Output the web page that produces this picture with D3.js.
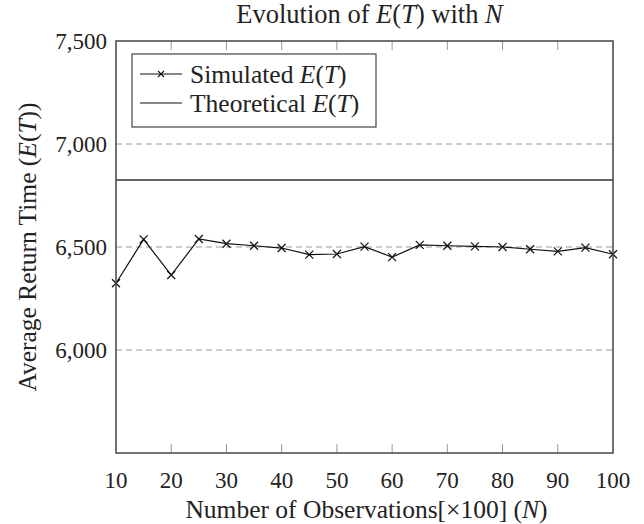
<!DOCTYPE html>
<html>
<head>
<meta charset="utf-8">
<script src="https://cdn.jsdelivr.net/npm/d3@7"></script>
<style>
  body { margin: 0; background: #fff; }
</style>
</head>
<body>
<div id="chart"></div>
<script>
// observations (x100) and simulated mean return time
const observations = [10, 15, 20, 25, 30, 35, 40, 45, 50, 55, 60, 65, 70, 75, 80, 85, 90, 95, 100];
const simulated = [6324, 6537, 6364, 6539, 6516, 6506, 6495, 6463, 6466, 6502, 6451, 6510, 6506, 6503, 6500, 6489, 6479, 6497, 6465];
const theoretical = 6825;
const xTicks = [10, 20, 30, 40, 50, 60, 70, 80, 90, 100];
const yTicks = [6000, 6500, 7000, 7500];
const gridValues = [6000, 6500, 7000];

const width = 644, height = 524;
const margin = {top: 41, right: 31, bottom: 71, left: 116};
const tickFs = 23;   // tick labels
const labelFs = 25.5; // titles and legend
const serif = "'Liberation Serif', 'Times New Roman', 'DejaVu Serif', serif";

const svg = d3.select('#chart').append('svg')
    .attr('width', width)
    .attr('height', height)
    .attr('font-family', serif)
    .style('font-family', serif);

const x = d3.scaleLinear().domain([10, 100]).range([margin.left, width - margin.right]);
const y = d3.scaleLinear().domain([5500, 7500]).range([height - margin.bottom, margin.top]);

// dashed grid
svg.append('g')
    .selectAll('line')
    .data(gridValues)
    .enter().append('line')
    .attr('x1', x(10)).attr('x2', x(100))
    .attr('y1', d => y(d)).attr('y2', d => y(d))
    .style('stroke', '#9a9a9a')
    .style('stroke-width', 1)
    .style('stroke-dasharray', '6,4');

// tick marks inside the frame, top and bottom
const tickLen = 9;
svg.append('g')
    .selectAll('line')
    .data(xTicks.slice(1, -1))
    .enter().append('line')
    .attr('x1', d => x(d)).attr('x2', d => x(d))
    .attr('y1', y(7500)).attr('y2', y(7500) + tickLen)
    .style('stroke', '#999').style('stroke-width', 1);
svg.append('g')
    .selectAll('line')
    .data(xTicks.slice(1, -1))
    .enter().append('line')
    .attr('x1', d => x(d)).attr('x2', d => x(d))
    .attr('y1', y(5500)).attr('y2', y(5500) - tickLen)
    .style('stroke', '#999').style('stroke-width', 1);

// theoretical line
svg.append('line')
    .attr('x1', x(10)).attr('x2', x(100))
    .attr('y1', y(theoretical)).attr('y2', y(theoretical))
    .style('stroke', '#666')
    .style('stroke-width', 2);

// simulated series
const pts = observations.map((o, i) => [o, simulated[i]]);
svg.append('path')
    .datum(pts)
    .attr('d', d3.line().x(d => x(d[0])).y(d => y(d[1])))
    .style('fill', 'none')
    .style('stroke', '#111')
    .style('stroke-width', 1.2);

const cross = 4;
svg.append('g')
    .selectAll('path')
    .data(pts)
    .enter().append('path')
    .attr('d', d => {
        const cx = x(d[0]), cy = y(d[1]);
        return `M${cx - cross},${cy - cross}L${cx + cross},${cy + cross}M${cx - cross},${cy + cross}L${cx + cross},${cy - cross}`;
    })
    .style('stroke', '#111')
    .style('stroke-width', 1.2);

// frame
svg.append('rect')
    .attr('x', x(10)).attr('y', y(7500))
    .attr('width', x(100) - x(10))
    .attr('height', y(5500) - y(7500))
    .style('fill', 'none')
    .style('stroke', '#444')
    .style('stroke-width', 1.5);

// tick labels
const fmt = d3.format(',');
svg.append('g')
    .selectAll('text')
    .data(yTicks)
    .enter().append('text')
    .attr('x', x(10) - 9)
    .attr('y', d => y(d))
    .attr('dy', '0.35em')
    .attr('text-anchor', 'end')
    .style('font-size', tickFs + 'px')
    .style('fill', '#222')
    .text(d => fmt(d));

svg.append('g')
    .selectAll('text')
    .data(xTicks)
    .enter().append('text')
    .attr('x', d => x(d))
    .attr('y', y(5500) + 35)
    .attr('text-anchor', 'middle')
    .style('font-size', tickFs + 'px')
    .style('fill', '#222')
    .text(d => d);

// text with italic math parts
function richText(sel, parts) {
    sel.style('fill', '#222');
    parts.forEach(p => {
        sel.append('tspan')
            .style('font-style', p[1] ? 'italic' : 'normal')
            .text(p[0]);
    });
    return sel;
}

const plotMid = (x(10) + x(100)) / 2;

richText(svg.append('text')
    .attr('x', plotMid + 5).attr('y', 23)
    .attr('text-anchor', 'middle')
    .style('font-size', '26.5px'),
    [['Evolution of ', false], ['E', true], ['(', false], ['T', true], [') with ', false], ['N', true]]);

richText(svg.append('text')
    .attr('x', plotMid + 2).attr('y', height - 6)
    .attr('text-anchor', 'middle')
    .style('font-size', labelFs + 'px'),
    [['Number of Observations[\u00d7100] (', false], ['N', true], [')', false]]);

richText(svg.append('text')
    .attr('transform', `translate(36,${(y(5500) + y(7500)) / 2}) rotate(-90)`)
    .attr('text-anchor', 'middle')
    .style('font-size', labelFs + 'px'),
    [['Average Return Time (', false], ['E', true], ['(', false], ['T', true], ['))', false]]);

// legend
const legend = svg.append('g').attr('transform', 'translate(132,54)');
legend.append('rect')
    .attr('width', 244).attr('height', 73)
    .style('fill', '#fff')
    .style('stroke', '#444')
    .style('stroke-width', 1.2);

const legendRows = [
    {label: 'Simulated ', marker: true},
    {label: 'Theoretical ', marker: false}
];
legendRows.forEach((r, i) => {
    const ly = 20 + i * 29;
    legend.append('line')
        .attr('x1', 8).attr('x2', 50)
        .attr('y1', ly).attr('y2', ly)
        .style('stroke', '#111').style('stroke-width', 1.2);
    if (r.marker) {
        legend.append('path')
            .attr('d', `M${29 - 3},${ly - 3}L${29 + 3},${ly + 3}M${29 - 3},${ly + 3}L${29 + 3},${ly - 3}`)
            .style('stroke', '#111').style('stroke-width', 1.1);
    }
    richText(legend.append('text')
        .attr('x', 58).attr('y', ly)
        .attr('dy', '0.35em')
        .style('font-size', labelFs + 'px'),
        [[r.label, false], ['E', true], ['(', false], ['T', true], [')', false]]);
});
</script>
</body>
</html>
